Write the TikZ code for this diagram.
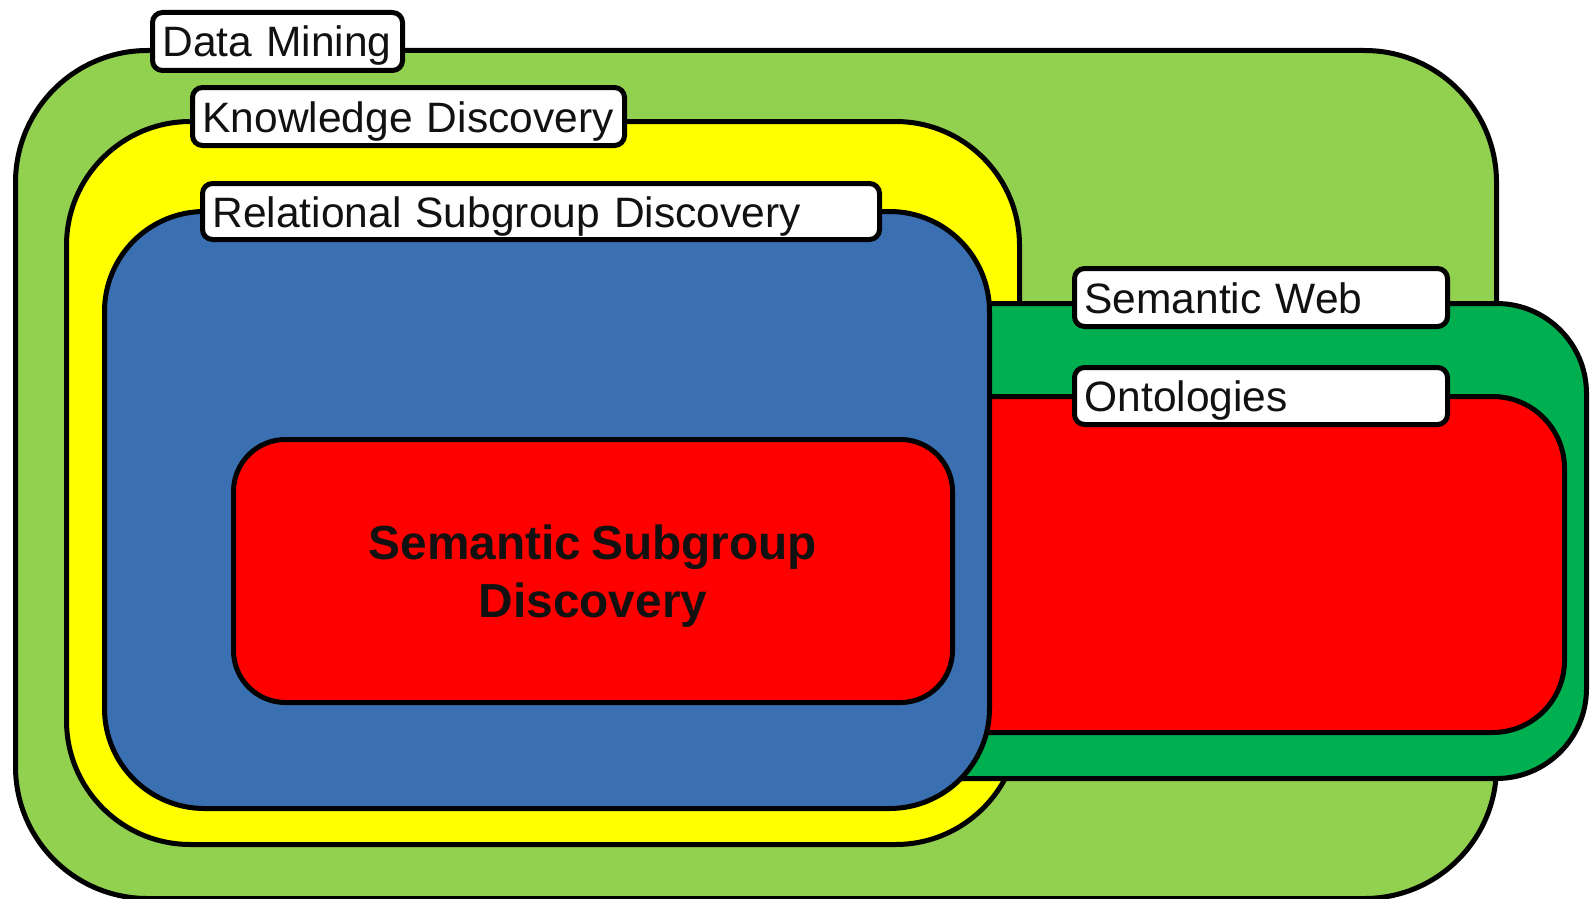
\documentclass[tikz,border=0pt]{standalone}
\usepackage{fontspec}
\setmainfont[WordSpace=0.75]{Liberation Sans}
\definecolor{dmgreen}{HTML}{92D050}
\definecolor{kdyellow}{HTML}{FFFF00}
\definecolor{rsdblue}{HTML}{3A70B1}
\definecolor{swgreen}{HTML}{00AF50}
\definecolor{ontred}{HTML}{FF0000}
\definecolor{inkgrey}{HTML}{111111}
\begin{document}
\begin{tikzpicture}[x=1pt,y=-1pt,
  region/.style={draw=black, line width=5pt, rectangle, anchor=north west, inner sep=0pt},
  lbl/.style={draw=black, fill=white, line width=5pt, rectangle, rounded corners=10pt,
    anchor=north west, inner xsep=10pt, inner ysep=0pt, minimum height=58pt,
    align=left, text=inkgrey, font=\fontsize{42.5}{50}\selectfont, text height=31pt, text depth=0pt}]
  \useasboundingbox (0,0) rectangle (1590,899);

  % nested areas, back to front
  \node[region, fill=dmgreen, rounded corners=132pt, minimum width=1481pt, minimum height=848pt] (dm) at (13,48) {};
  \node[region, fill=kdyellow, rounded corners=124pt, minimum width=953pt, minimum height=723pt] (kd) at (64,119) {};
  \node[region, fill=swgreen, rounded corners=90pt, minimum width=884pt, minimum height=475pt] (sw) at (700,301) {};
  \node[region, fill=ontred, rounded corners=72pt, minimum width=862pt, minimum height=336pt] (ont) at (700,394) {};
  \node[region, fill=rsdblue, rounded corners=100pt, minimum width=885pt, minimum height=597pt] (rsd) at (102,209) {};
  \node[region, fill=ontred, rounded corners=52pt, minimum width=719pt, minimum height=263pt] (ssd) at (231,437) {};
  \node[align=center, text=inkgrey, font=\fontsize{47.8}{57.8}\selectfont\bfseries, yshift=-5pt]
        (ssdtext) at (ssd.center) {Semantic Subgroup\\Discovery};

  % area labels
  \node[lbl, text width=230pt] (dmlbl) at (150,10) {Data Mining};
  \node[lbl, text width=412pt] (kdlbl) at (190,85) {Knowledge Discovery};
  \node[lbl, text width=657pt, minimum height=56pt] (rsdlbl) at (200,181) {Relational Subgroup Discovery};
  \node[lbl, text width=353pt] (swlbl) at (1072,266) {Semantic Web};
  \node[lbl, text width=353pt, minimum height=57pt] (ontlbl) at (1072,365) {Ontologies};
\end{tikzpicture}
\end{document}
